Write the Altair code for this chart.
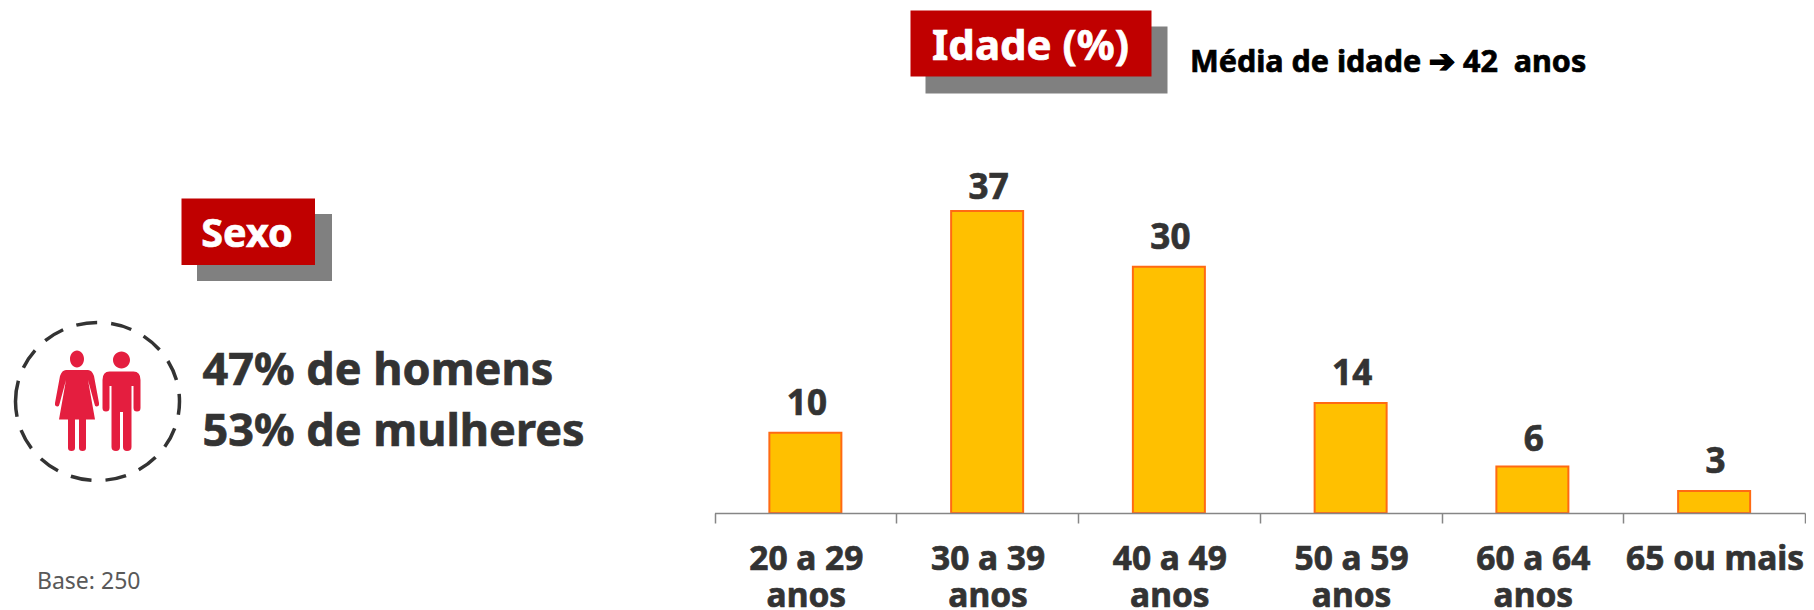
import altair as alt
import pandas as pd

categories = ["20 a 29 anos", "30 a 39 anos", "40 a 49 anos", "50 a 59 anos", "60 a 64 anos", "65 ou mais"]
axis_lines = ["20 a 29|anos", "30 a 39|anos", "40 a 49|anos", "50 a 59|anos", "60 a 64|anos", "65 ou mais"]
bar_values = [9.85, 37.05, 30.2, 13.5, 5.7, 2.7]
bar_labels = ["10", "37", "30", "14", "6", "3"]

FONT = "Noto Sans"
RED = "#C00000"
GREY = "#808080"
DARK = "#333333"
ICON = "#E41E3F"
HEAVY = 0.7

df = pd.DataFrame({"cat": categories, "value": bar_values, "label": bar_labels, "lines": axis_lines})
one = alt.Data(values=[{"a": 1}])

x_scale = alt.Scale(domain=categories, range=[706.5, 1797], paddingInner=0, paddingOuter=0)
y_scale = alt.Scale(domain=[0, 61.96], range=[505, 0], nice=False)
x_enc = alt.X("cat:N", scale=x_scale, title=None,
              axis=alt.Axis(labels=False, tickBand="extent", tickSize=10, tickWidth=1.5, tickColor="#868686",
                            domainColor="#868686", domainWidth=1.5, grid=False, title=None, zindex=1))
y_enc = alt.Y("value:Q", scale=y_scale, axis=None)

bars = alt.Chart(df).mark_bar(width=72, color="#FFC000", stroke="#FF6A13", strokeWidth=2).encode(x=x_enc, y=y_enc)
bar_text = alt.Chart(df).mark_text(
    font=FONT, fontWeight="bold", fontSize=35, color=DARK, stroke=DARK, strokeWidth=HEAVY, dx=1.5,
    baseline="alphabetic",
    dy=alt.expr("datum.label == '37' ? -12.5 : datum.label == '6' ? -16 : -17.5")
).encode(x=alt.X("cat:N", scale=x_scale), y=y_enc, text="label:N")
axis_text = alt.Chart(df).transform_calculate(parts="split(datum.lines, '|')").mark_text(
    font=FONT, fontWeight="bold", fontSize=33.5, color=DARK, stroke=DARK, strokeWidth=HEAVY,
    lineHeight=37, baseline="alphabetic", dx=1
).encode(x=alt.X("cat:N", scale=x_scale), y=alt.value(562), text="parts:N")


def box(x, x2, y, y2, color):
    return alt.Chart(one).mark_rect(color=color).encode(
        x=alt.value(x), x2=alt.value(x2), y=alt.value(y), y2=alt.value(y2))


def label(txt, x, y, size, color, weight="bold", align="left"):
    extra = {"stroke": color, "strokeWidth": HEAVY} if weight == "bold" else {}
    return alt.Chart(alt.Data(values=[{"t": txt}])).mark_text(
        font=FONT, fontWeight=weight, fontSize=size, color=color, align=align, baseline="alphabetic", **extra
    ).encode(x=alt.value(x), y=alt.value(y), text="t:N")


def symbol(path, x, y, **kw):
    return alt.Chart(one).mark_point(shape=path, size=4, **kw).encode(x=alt.value(x), y=alt.value(y))


WOMAN = ("M-11,-30 L11,-30 Q15,-30 17,-24 L22,3 Q22.5,6 20,6.5 Q18,7 17.5,4 L11,-20 L18,19.5 L-18,19.5 L-11,-20 "
         "L-17.5,4 Q-18,7 -20,6.5 Q-22.5,6 -22,3 L-17,-24 Q-15,-30 -11,-30 Z "
         "M-9,19 L-2,19 L-2,48 Q-2,51 -5.5,51 Q-9,51 -9,48 Z M2,19 L9,19 L9,48 Q9,51 5.5,51 Q2,51 2,48 Z "
         "M-7,-41 A7,8.5 0 1 1 7,-41 A7,8.5 0 1 1 -7,-41 Z")
MAN = ("M-12,-28.5 L12,-28.5 Q19,-28.5 19,-20 L19,8 Q19,11.5 15.5,11.5 Q12,11.5 12,8 L12,-14 L10,-14 L10,47 "
       "Q10,51 5.5,51 Q1.5,51 1.5,47 L1.5,12 L-1.5,12 L-1.5,47 Q-1.5,51 -5.5,51 Q-10,51 -10,47 L-10,-14 L-12,-14 "
       "L-12,8 Q-12,11.5 -15.5,11.5 Q-19,11.5 -19,8 L-19,-20 Q-19,-28.5 -12,-28.5 Z "
       "M-8.5,-40 A8.5,8.5 0 1 1 8.5,-40 A8.5,8.5 0 1 1 -8.5,-40 Z")
RING = "M-82,0 A82,79 0 1 1 82,0 A82,79 0 1 1 -82,0 Z"

chart = alt.layer(
    box(917.5, 1159.5, 18.5, 85.5, GREY),
    box(902.5, 1143.5, 2.5, 68.5, RED),
    box(189, 324, 206, 273, GREY),
    box(173.5, 307, 190.5, 257, RED),
    label("Idade (%)", 1022.5, 52, 42, "white", align="center"),
    label("Sexo", 239, 239, 39.5, "white", align="center"),
    label("Média de idade ➔ 42\u00a0\u00a0anos", 1182, 64, 30.5, "black"),
    label("47% de homens", 194.5, 377, 45, DARK),
    label("53% de mulheres", 194.5, 438, 45, DARK),
    label("Base: 250", 29, 581, 23, "#595959", weight="normal"),
    symbol(RING, 89.5, 393.5, filled=False, stroke=DARK, strokeWidth=3.5, strokeDash=[21, 14], opacity=1),
    symbol(WOMAN, 69, 392, filled=True, color=ICON, opacity=1),
    symbol(MAN, 113.5, 392, filled=True, color=ICON, opacity=1),
    bars, bar_text, axis_text,
).properties(
    width=1798, height=505,
    padding={"left": 0, "top": 0, "right": 0, "bottom": 97},
    autosize=alt.AutoSizeParams(type="none"),
    background="white",
).configure_view(stroke=None)

chart.save("out.html", embed_options={"renderer": "svg", "actions": False})
